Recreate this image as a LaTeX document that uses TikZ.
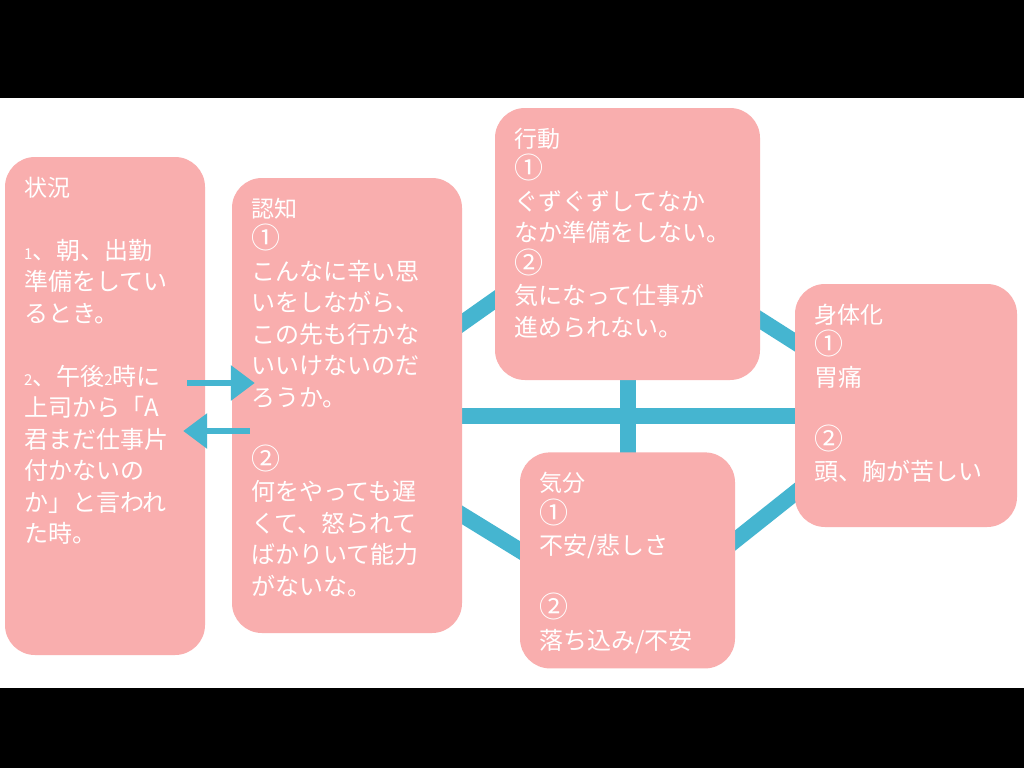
\documentclass[tikz,border=0pt]{standalone}
\usepackage{fontspec}
\setmainfont{Noto Sans CJK JP}
\usetikzlibrary{arrows.meta, positioning, backgrounds}
\definecolor{cardpink}{HTML}{F9AEAE}
\definecolor{linkblue}{HTML}{45B5D0}
\newcommand{\cardtext}[3]{\parbox[c][#2][t]{#1}{\fontsize{24}{31.5}\selectfont #3}}
\newcommand{\hd}[1]{{\fontsize{23}{31.5}\selectfont #1}}
\newcommand{\cn}[1]{{\fontsize{29}{31.5}\selectfont #1}}
\newcommand{\sn}[1]{{\fontsize{15}{31.5}\selectfont #1}}

\begin{document}
\begin{tikzpicture}[x=1pt, y=-1pt,
    card/.style={fill=cardpink, rounded corners=30pt, text=white, inner xsep=19pt, inner ysep=20pt},
    link/.style={draw=linkblue, line width=16pt, shorten <=-12pt, shorten >=-12pt},
    flow/.style={draw=linkblue, line width=6pt, -{Triangle[length=24pt, width=34pt]}}]
        % 状況・認知・行動・気分・身体化のつながり
        \node (sit) [card] at (105,406) {\cardtext{162pt}{458pt}{\hd{状況}\\[\baselineskip]\sn{1}、朝、出勤\\準備をしてい\\るとき。\\[\baselineskip]\sn{2}、午後\sn{2}時に\\上司から「A\\君まだ仕事片\\付かないの\\か」と言われ\\た時。}};
        \node (cog) [card] at (347,405.5) {\cardtext{192pt}{415pt}{\hd{認知}\\\cn{①}\\こんなに辛い思\\いをしながら、\\この先も行かな\\いいけないのだ\\ろうか。\\[\baselineskip]\cn{②}\\何をやっても遅\\くて、怒られて\\ばかりいて能力\\がないな。}};
        \node (act) [card] at (627.5,244) {\cardtext{227pt}{232pt}{\hd{行動}\\\cn{①}\\ぐずぐずしてなか\\なか準備をしない。\\\cn{②}\\気になって仕事が\\進められない。}};
        \node (mood) [card, below=72pt of act] {\cardtext{177pt}{176pt}{\hd{気分}\\\cn{①}\\不安/悲しさ\\[\baselineskip]\cn{②}\\落ち込み/不安}};
        \node (body) [card] at (906,405.5) {\cardtext{184pt}{203pt}{\hd{身体化}\\\cn{①}\\胃痛\\[\baselineskip]\cn{②}\\頭、胸が苦しい}};

        \begin{scope}[on background layer]
            \fill[white] (0,0) rectangle (1024,768);
            \fill[black] (0,0) rectangle (1024,98);
            \fill[black] (0,688) rectangle (1024,768);
            \draw[link] ([yshift=82.5pt]cog.east) -- ([yshift=-56pt]act.west);
            \draw[link] ([yshift=-76pt]act.east) -- ([yshift=63.5pt]body.west);
            \draw[link] ([yshift=-109.5pt]cog.east) -- ([yshift=10pt]mood.west);
            \draw[link] ([yshift=20pt]mood.east) -- ([yshift=-87.5pt]body.west);
            \draw[link] ([yshift=-10.5pt]cog.east) -- ([yshift=-10.5pt]body.west);
            \draw[link] (act.south) -- (mood.north);
        \end{scope}

        \draw[flow] ([xshift=-18pt, yshift=23pt]sit.east) -- ([xshift=23pt, yshift=22.5pt]cog.west);
        \draw[flow] ([xshift=18pt, yshift=-25.5pt]cog.west) -- ([xshift=-22pt, yshift=-25pt]sit.east);
        \useasboundingbox (0,0) rectangle (1024,768);
    \end{tikzpicture}
\end{document}
